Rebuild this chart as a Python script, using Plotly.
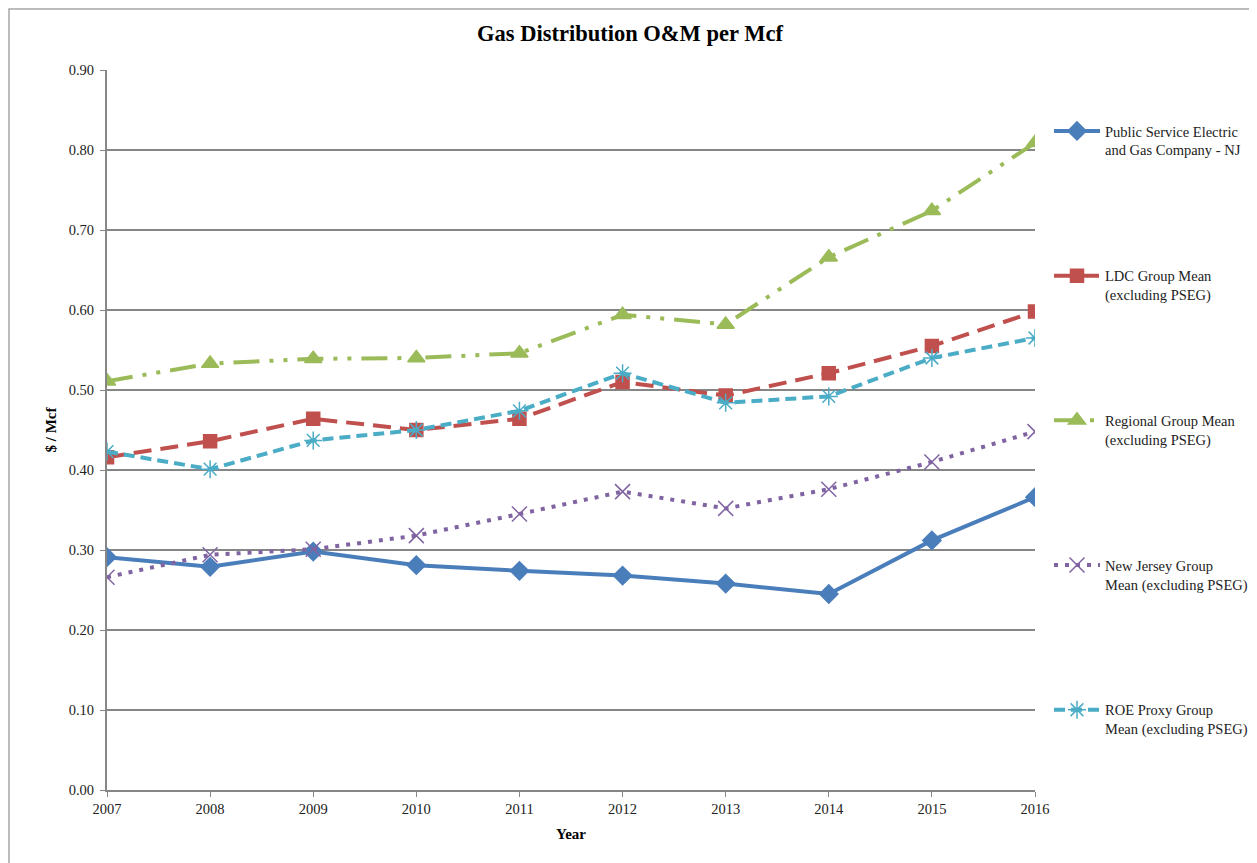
import plotly.graph_objects as go

years = [2007, 2008, 2009, 2010, 2011, 2012, 2013, 2014, 2015, 2016]
pseg = [0.291, 0.279, 0.298, 0.281, 0.274, 0.268, 0.258, 0.245, 0.312, 0.366]
ldc = [0.416, 0.436, 0.464, 0.450, 0.464, 0.510, 0.493, 0.521, 0.555, 0.598]
regional = [0.511, 0.533, 0.539, 0.540, 0.546, 0.594, 0.582, 0.666, 0.724, 0.809]
nj = [0.266, 0.294, 0.301, 0.318, 0.345, 0.373, 0.352, 0.376, 0.410, 0.448]
roe = [0.423, 0.401, 0.437, 0.450, 0.474, 0.521, 0.484, 0.492, 0.540, 0.565]

names = [
    "Public Service Electric<br>and Gas Company - NJ",
    "LDC Group Mean<br>(excluding PSEG)",
    "Regional Group Mean<br>(excluding PSEG)",
    "New Jersey Group<br>Mean (excluding PSEG)",
    "ROE Proxy Group<br>Mean (excluding PSEG)",
]
y_ticks = [0.0, 0.1, 0.2, 0.3, 0.4, 0.5, 0.6, 0.7, 0.8, 0.9]

FONT = "Liberation Serif"
GRID = "#868686"

styles = [
    dict(color="#4A7EBB", dash="solid", symbol="diamond", size=14),
    dict(color="#C0504D", dash="18px,9px", symbol="square", size=13),
    dict(color="#9BBB59", dash="26px,10px,4px,10px,4px,10px", symbol="triangle-up", size=15),
    dict(color="#8064A2", dash="4px,7px", symbol="x-thin-open", size=15),
    dict(color="#4BACC6", dash="11px,6px", symbol="asterisk-open", size=15),
]
series = [pseg, ldc, regional, nj, roe]

W, H = 1249, 855
L, R, T, B = 99, 222, 62, 73
PW, PH = W - L - R, H - T - B

fig = go.Figure()
for i, (vals, name, st) in enumerate(zip(series, names, styles)):
    fig.add_trace(go.Scatter(
        x=years, y=vals, name=name, mode="lines+markers",
        legendgroup=f"g{i}",
        line=dict(color=st["color"], width=4, dash=st["dash"]),
        marker=dict(symbol=st["symbol"], size=st["size"], color=st["color"],
                    line=dict(color=st["color"], width=1.5)),
    ))

fig.update_layout(
    width=W, height=H,
    margin=dict(l=L, r=R, t=T, b=B, autoexpand=False),
    paper_bgcolor="white", plot_bgcolor="white",
    font=dict(family=FONT, size=14.5, color="#222222"),
    title=dict(text="<b>Gas Distribution O&amp;M per Mcf</b>", x=(630 - 8) / W, xanchor="center",
               y=1 - 25 / H, yanchor="middle", font=dict(size=22.5, color="black", family=FONT)),
    showlegend=True,
    legend=dict(x=(1041 - L) / PW, xanchor="left", y=1 - 45 / PH, yanchor="top",
                tracegroupgap=104, valign="top",
                font=dict(size=14.5, family=FONT, color="#222222"),
                itemwidth=46, borderwidth=0, bgcolor="rgba(0,0,0,0)"),
    xaxis=dict(range=[2007, 2016], tickmode="array", tickvals=years,
               ticktext=[str(y) for y in years], showgrid=False,
               showline=True, linecolor=GRID, linewidth=2,
               ticks="outside", ticklen=5, tickcolor=GRID, tickwidth=1,
               title=dict(text="<b>Year</b>", font=dict(size=15, color="black"), standoff=12),
               zeroline=False),
    yaxis=dict(range=[0, 0.9], tickmode="array", tickvals=y_ticks,
               ticktext=[f"{v:.2f}" for v in y_ticks],
               showgrid=True, gridcolor=GRID, gridwidth=1.5,
               showline=True, linecolor=GRID, linewidth=2,
               ticks="outside", ticklen=5, tickcolor=GRID, tickwidth=1,
               ticklabelstandoff=3,
               title=dict(text="<b>$ / Mcf</b>", font=dict(size=15, color="black"), standoff=8),
               zeroline=False),
)

fig.add_shape(type="rect", xref="paper", yref="paper",
              x0=-(L - 1) / PW, x1=(W - L - 1) / PW, y0=-(B + 20) / PH, y1=(PH + T - 1) / PH,
              line=dict(color="#A6A6A6", width=1.5), fillcolor="rgba(0,0,0,0)", layer="below")

fig.write_html("out.html")
